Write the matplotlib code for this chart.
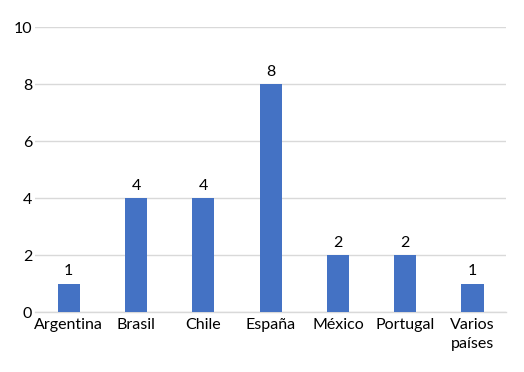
import matplotlib
matplotlib.use("Agg")
import matplotlib.pyplot as plt

# Datos
paises = ["Argentina", "Brasil", "Chile", "España", "México", "Portugal", "Varios\npaíses"]
valores = [1, 4, 4, 8, 2, 2, 1]
y_ticks = [0, 2, 4, 6, 8, 10]

plt.rcParams["font.family"] = ["Lato", "DejaVu Sans"]

fig = plt.figure(figsize=(5.24, 3.72), dpi=100)
ax = fig.add_axes([0.067, 0.161, 0.899, 0.766])

x = range(len(paises))
bars = ax.bar(x, valores, width=0.33, color="#4472C4", zorder=3)
ax.bar_label(bars, labels=[str(v) for v in valores], padding=4, fontsize=11.5, color="#000000")

ax.set_xlim(-0.5, len(paises) - 0.5)
ax.set_ylim(0, 10)
ax.set_yticks(y_ticks)
ax.set_xticks(list(x))
ax.set_xticklabels(paises, fontsize=11.5, va="top", linespacing=1.45)
ax.tick_params(axis="y", labelsize=11.5, length=0, pad=2)
ax.tick_params(axis="x", length=0, pad=4)

ax.grid(axis="y", color="#D9D9D9", linewidth=1, zorder=0)
for s in ["top", "right", "left"]:
    ax.spines[s].set_visible(False)
ax.spines["bottom"].set_color("#D9D9D9")
ax.spines["bottom"].set_linewidth(1)

fig.savefig("out.png", dpi=100)
